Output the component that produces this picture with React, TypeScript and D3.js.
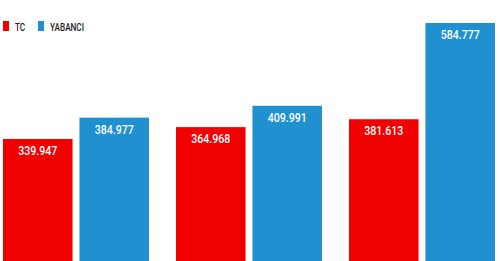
import React from "react";
import * as d3 from "d3";

const groups = ["1", "2", "3"];
const seriesNames = ["TC", "YABANCI"];
const tcValues = [339.947, 364.968, 381.613];
const yabanciValues = [384.977, 409.991, 584.777];
const colors = ["#F00000", "#2190D0"];

const W = 500;
const H = 261;

export default function App() {
  const x0 = d3.scaleBand<string>().domain(groups).range([3, 495]).paddingInner(0.156).paddingOuter(0);
  const x1 = d3.scaleBand<string>().domain(seriesNames).range([0, x0.bandwidth()]).paddingInner(0.09).paddingOuter(0);
  const y = d3.scaleLinear().domain([0, 584.777]).range([300, 23]);
  const fmt = (v: number) => v.toFixed(3);
  const data = groups.map((g, i) => ({ g, vals: [tcValues[i], yabanciValues[i]] }));
  return (
    <svg width={W} height={H} style={{ position: "absolute", left: 0, top: 0, background: "#fff" }}>
      <g fontFamily="Roboto, sans-serif">
        {seriesNames.map((s, i) => (
          <g key={s} transform={`translate(${3 + i * 35},21)`}>
            <rect x={0} y={0} width={6} height={10} fill={colors[i]} />
            <text transform="translate(12,9.5) scale(0.82,1)" fontSize={10} fontWeight={500} fill="#222">{s}</text>
          </g>
        ))}
        {data.map((d) => (
          <g key={d.g} transform={`translate(${x0(d.g)},0)`}>
            {d.vals.map((v, j) => {
              const bx = x1(seriesNames[j])!;
              const bw = x1.bandwidth();
              return (
                <g key={j}>
                  <rect x={bx} y={y(v)} width={bw} height={y(0) - y(v)} fill={colors[j]} />
                  <text
                    transform={`translate(${bx + bw / 2},${y(v) + 16}) scale(0.85,1)`}
                    textAnchor="middle"
                    fill="#fff"
                    fontSize={12.5}
                    fontWeight={500}
                  >
                    {fmt(v)}
                  </text>
                </g>
              );
            })}
          </g>
        ))}
      </g>
    </svg>
  );
}
